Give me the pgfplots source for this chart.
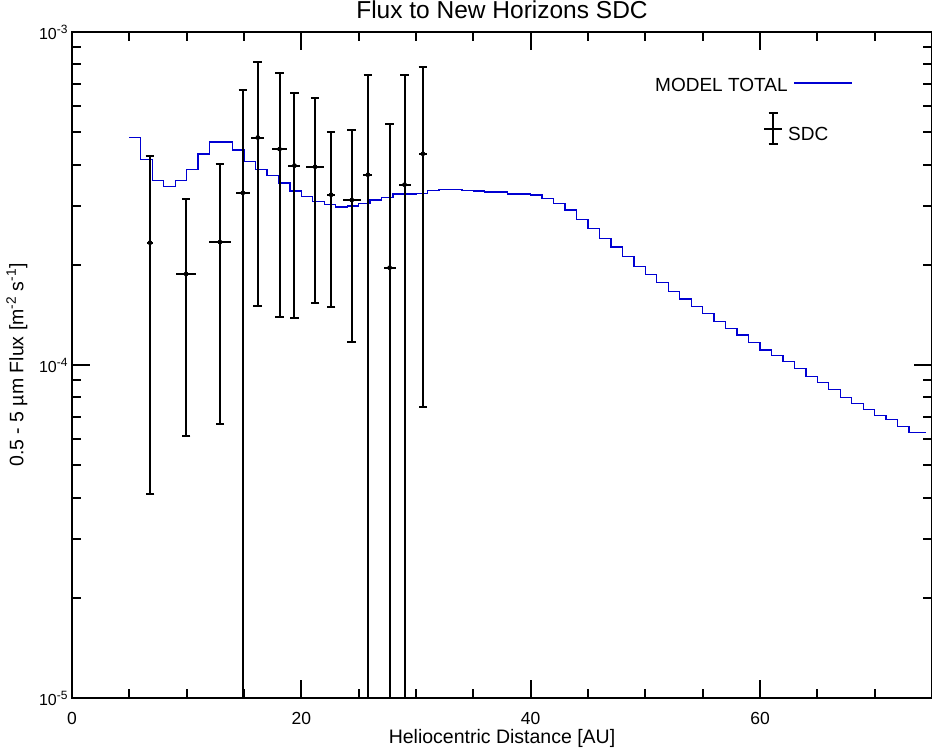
\documentclass[border=0pt]{standalone}
\usepackage{fontspec}
\setmainfont{Liberation Sans}
\usepackage{pgfplots}
\pgfplotsset{compat=1.18}
\usepackage{pgfplotstable}
\definecolor{modelblue}{RGB}{0,0,210}
\newcommand{\tsup}[1]{\raisebox{0.7ex}{\fontsize{12bp}{12bp}\selectfont #1}}

% SDC measurements: x, y, y error plus, y error minus, x half-width
\pgfplotstableread{
x    y        ep        em        xe
6.8  2.33e-4  1.92e-4   1.92e-4   0.26
9.95 1.877e-4 1.266e-4  1.266e-4  0.87
12.9 2.34e-4  1.673e-4  1.673e-4  0.96
14.9 3.29e-4  3.41e-4   3.28e-4   0.60
16.2 4.82e-4  3.32e-4   3.32e-4   0.57
18.1 4.45e-4  3.06e-4   3.06e-4   0.64
19.4 3.97e-4  2.59e-4   2.59e-4   0.52
21.2 3.94e-4  2.40e-4   2.40e-4   0.79
22.6 3.246e-4 1.755e-4  1.755e-4  0.36
24.4 3.13e-4  1.955e-4  1.955e-4  0.79
25.8 3.73e-4  3.70e-4   3.72e-4   0.40
27.7 1.96e-4  3.34e-4   1.95e-4   0.52
29.0 3.48e-4  3.95e-4   3.47e-4   0.52
30.6 4.31e-4  3.56e-4   3.56e-4   0.35
}\sdcdata

% Model total, histogram (left bin edge, value)
\pgfplotstableread{
x    y
5    4.83e-4
6    4.15e-4
7    3.59e-4
8    3.44e-4
9    3.59e-4
10   3.87e-4
11   4.30e-4
12   4.67e-4
13   4.67e-4
14   4.42e-4
15   4.09e-4
16   3.87e-4
17   3.71e-4
18   3.52e-4
19   3.33e-4
20   3.21e-4
21   3.10e-4
22   3.04e-4
23   2.98e-4
24   3.00e-4
25   3.06e-4
26   3.13e-4
27   3.19e-4
28   3.26e-4
29   3.26e-4
30   3.28e-4
31   3.35e-4
32   3.37e-4
33   3.37e-4
34   3.35e-4
35   3.33e-4
36   3.31e-4
37   3.31e-4
38   3.26e-4
39   3.26e-4
40   3.24e-4
41   3.17e-4
42   3.06e-4
43   2.92e-4
44   2.74e-4
45   2.57e-4
46   2.40e-4
47   2.26e-4
48   2.12e-4
49   1.98e-4
50   1.87e-4
51   1.77e-4
52   1.66e-4
53   1.58e-4
54   1.50e-4
55   1.43e-4
56   1.35e-4
57   1.29e-4
58   1.23e-4
59   1.17e-4
60   1.11e-4
61   1.069e-4
62   1.026e-4
63   9.77e-5
64   9.25e-5
65   8.87e-5
66   8.45e-5
67   8.00e-5
68   7.67e-5
69   7.36e-5
70   7.06e-5
71   6.87e-5
72   6.54e-5
73   6.28e-5
74.5 6.28e-5
}\modeldata

\begin{document}
\begin{tikzpicture}
\begin{axis}[
  name=ax,
  scale only axis, width=860bp, height=666bp,
  xmin=0, xmax=75, ymin=1e-5, ymax=1e-3, ymode=log,
  axis line style={line width=2bp, black},
  xtick={0,20,40,60}, xticklabels={0,20,40,60},
  minor xtick={5,10,15,25,30,35,45,50,55,65,70,75},
  ytick={1e-5,1e-4,1e-3},
  yticklabels={10\tsup{-5},10\tsup{-4},10\tsup{-3}},
  tick align=inside, xtick pos=both, ytick pos=both,
  major tick length=18bp, minor tick length=9bp,
  tick style={line width=2bp, black},
  xticklabel style={font=\fontsize{17.5bp}{20bp}\selectfont, anchor=base, yshift=-26bp},
  yticklabel style={font=\fontsize{16bp}{18bp}\selectfont, xshift=-1bp},
  title={Flux to New Horizons SDC},
  title style={font=\fontsize{24.5bp}{28bp}\selectfont, at={(axis description cs:0.5,1)}, anchor=base, yshift=8bp, inner sep=0pt},
  xlabel={Heliocentric Distance [AU]},
  xlabel style={font=\fontsize{19.5bp}{22bp}\selectfont, at={(axis description cs:0.5,-0.069)}, anchor=base},
  ylabel={0.5 - 5 µm Flux [m\textsuperscript{-2} s\textsuperscript{-1}]},
  ylabel style={font=\fontsize{19.5bp}{22bp}\selectfont, at={(axis description cs:-0.064,0.5)}, anchor=center},
  legend style={at={(axis description cs:0.9082,0.9189)}, anchor=east, draw=none, fill=none,
    font=\fontsize{19bp}{22bp}\selectfont, inner sep=0pt, legend plot pos=right,
    legend cell align=right, /tikz/every odd column/.append style={column sep=4bp}},
  legend image code/.code={\draw[#1] (0bp,3bp) -- (58bp,3bp);},
]
\addplot[const plot, color=modelblue, line width=1.3bp] table[x=x, y=y] {\modeldata};
\addlegendentry{MODEL TOTAL}
\addplot[only marks, mark=none, forget plot,
  error bars/.cd, y dir=both, y explicit,
  error bar style={draw=black, line width=2bp},
  error mark options={rotate=90, mark size=4.3bp, line width=2bp, draw=black}]
  table[x=x, y=y, y error plus=ep, y error minus=em] {\sdcdata};
\addplot[only marks, mark=none, forget plot,
  error bars/.cd, x dir=both, x explicit, error mark=none,
  error bar style={draw=black, line width=2bp}]
  table[x=x, y=y, x error=xe] {\sdcdata};
\end{axis}
\begin{axis}[
  at={(ax.south west)}, anchor=south west,
  scale only axis, width=860bp, height=666bp, hide axis,
  xmin=0, xmax=75, ymin=0, ymax=1,
  legend style={at={(axis description cs:0.8035,0.8544)}, anchor=west, draw=none, fill=none,
    font=\fontsize{19bp}{22bp}\selectfont, inner sep=0pt, legend plot pos=left,
    /tikz/every odd column/.append style={column sep=3bp}},
]
\addlegendimage{legend image code/.code={
  \draw[line width=2bp] (9bp,-10bp) -- (9bp,21bp);
  \draw[line width=2bp] (4.5bp,-10bp) -- (13.5bp,-10bp);
  \draw[line width=2bp] (4.5bp,21bp) -- (13.5bp,21bp);
  \draw[line width=2bp] (0bp,5bp) -- (18bp,5bp);}}
\addlegendentry{SDC}
\end{axis}
\pgfresetboundingbox
\path ([shift={(-72bp,-50bp)}]ax.south west) rectangle ([shift={(0bp,32bp)}]ax.north east);
\end{tikzpicture}
\end{document}
